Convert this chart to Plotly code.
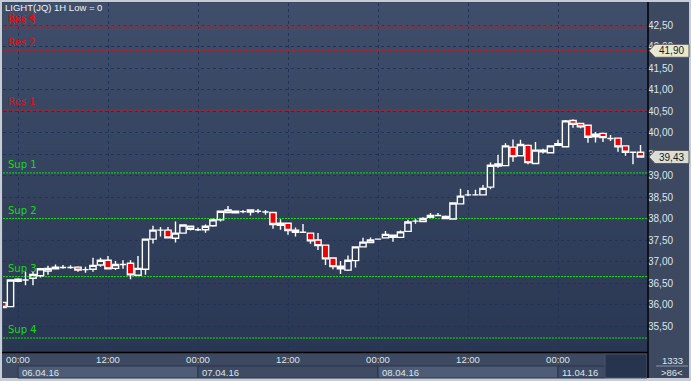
import plotly.graph_objects as go

# ---------------- data ----------------
title_text = "LIGHT(JQ) 1H Low = 0"
hours = list(range(86))
opens = [36.05, 35.95, 36.59, 36.57, 36.61, 36.67, 36.78, 36.87, 36.86, 36.86,
         36.87, 36.81, 36.82, 36.92, 37.03, 36.84, 36.93, 36.96, 36.68, 36.82,
         37.52, 37.73, 37.73, 37.54, 37.66, 37.82, 37.74, 37.74, 37.83, 37.97,
         38.14, 38.17, 38.16, 38.20, 38.17, 38.15, 38.14, 37.84, 37.89, 37.73,
         37.68, 37.66, 37.50, 37.38, 37.08, 36.89, 36.80, 37.02, 37.34, 37.44,
         37.52, 37.55, 37.61, 37.56, 37.70, 37.94, 37.93, 38.03, 38.07, 38.05,
         37.99, 38.34, 38.55, 38.55, 38.55, 38.73, 39.27, 39.23, 39.66, 39.46,
         39.70, 39.28, 39.59, 39.53, 39.70, 39.67, 40.28, 40.21, 40.17, 39.90,
         39.98, 39.86, 39.87, 39.69, 39.54, 39.54]
highs = [36.06, 36.59, 36.61, 36.76, 36.78, 36.84, 36.90, 36.93, 36.92, 36.91,
         36.89, 36.88, 37.09, 37.09, 37.13, 37.01, 37.03, 37.03, 37.13, 37.52,
         37.83, 37.80, 37.80, 37.93, 37.85, 37.84, 37.79, 37.86, 38.00, 38.18,
         38.29, 38.18, 38.20, 38.21, 38.22, 38.20, 38.15, 37.98, 37.90, 37.79,
         37.87, 37.67, 37.66, 37.38, 37.10, 37.01, 37.14, 37.34, 37.55, 37.56,
         37.53, 37.71, 37.62, 37.72, 37.97, 37.99, 38.03, 38.13, 38.13, 38.07,
         38.36, 38.69, 38.66, 38.67, 38.78, 39.30, 39.48, 39.75, 39.84, 39.83,
         39.72, 39.78, 39.62, 39.69, 39.83, 40.29, 40.31, 40.22, 40.18, 40.01,
         40.00, 39.94, 39.88, 39.70, 39.55, 39.71]
lows = [35.92, 35.94, 36.52, 36.45, 36.45, 36.63, 36.69, 36.82, 36.83, 36.83,
        36.76, 36.74, 36.76, 36.88, 36.83, 36.80, 36.83, 36.59, 36.67, 36.69,
        37.42, 37.58, 37.55, 37.44, 37.65, 37.72, 37.71, 37.67, 37.81, 37.93,
        38.14, 38.12, 38.12, 38.07, 38.12, 38.09, 37.76, 37.74, 37.62, 37.58,
        37.68, 37.41, 37.27, 36.92, 36.82, 36.71, 36.78, 36.86, 37.34, 37.44,
        37.51, 37.55, 37.46, 37.56, 37.70, 37.88, 37.93, 38.03, 38.07, 38.00,
        37.99, 38.34, 38.52, 38.55, 38.55, 38.68, 39.18, 39.23, 39.32, 39.44,
        39.26, 39.28, 39.51, 39.53, 39.70, 39.65, 40.11, 40.10, 39.76, 39.77,
        39.78, 39.80, 39.55, 39.46, 39.26, 39.43]
closes = [35.93, 36.57, 36.54, 36.57, 36.70, 36.83, 36.84, 36.83, 36.86, 36.86,
          36.80, 36.81, 36.91, 37.03, 36.83, 36.93, 36.93, 36.69, 36.84, 37.52,
          37.73, 37.73, 37.55, 37.66, 37.85, 37.75, 37.74, 37.82, 37.97, 38.17,
          38.20, 38.13, 38.16, 38.15, 38.17, 38.15, 37.86, 37.89, 37.72, 37.68,
          37.68, 37.48, 37.37, 37.06, 36.88, 36.83, 37.03, 37.34, 37.45, 37.50,
          37.52, 37.63, 37.56, 37.69, 37.92, 37.94, 38.00, 38.07, 38.07, 38.00,
          38.36, 38.52, 38.55, 38.55, 38.70, 39.24, 39.22, 39.69, 39.44, 39.72,
          39.30, 39.59, 39.55, 39.69, 39.74, 40.27, 40.19, 40.13, 39.89, 39.96,
          39.88, 39.86, 39.67, 39.54, 39.54, 39.43]

time_tick_pos = [2, 14, 26, 38, 50, 62, 74]
time_tick_text = ["00:00", "12:00", "00:00", "12:00", "00:00", "12:00", "00:00"]
date_start = [2, 26, 50, 74]
date_end = [26, 50, 74, 80.3]
date_text = ["06.04.16", "07.04.16", "08.04.16", "11.04.16"]
price_ticks = [35.5, 36.0, 36.5, 37.0, 37.5, 38.0, 38.5, 39.0, 39.5, 40.0,
               40.5, 41.0, 41.5, 42.0, 42.5]
price_tick_text = ["35,50", "36,00", "36,50", "37,00", "37,50", "38,00", "38,50",
                   "39,00", "39,50", "40,00", "40,50", "41,00", "41,50", "42,00", "42,50"]
level_names = ["Res 4", "Res 3", "Res 2", "Res 1", "Sup 1", "Sup 2", "Sup 3", "Sup 4"]
level_values = [42.48, 42.40, 41.90, 40.52, 39.06, 38.00, 36.65, 35.22]
marker_values = [41.90, 39.43]
marker_text = ["41,90", "39,43"]
corner_text = ["1333", ">86<"]

# ---------------- geometry / style ----------------
W, H = 691, 381
ML, MR, MT, MB = 3, 44, 3, 29
PW, PH = W - ML - MR, H - MT - MB
X_RANGE = [0, PW / 7.5]
Y_RANGE = [34.8953, 43.0116]
UPY = (Y_RANGE[1] - Y_RANGE[0]) / PH  # data units per pixel


def pxx(px):
    return (px - ML) / PW


def pxy(py):
    return (H - MB - py) / PH


FONT = "Arial, Liberation Sans, sans-serif"
LBL = "#dde5ee"
PANEL = "rgb(60,73,96)"
RED = "#e01010"
GREEN = "#11dd11"

fig = go.Figure()
fig.add_trace(go.Candlestick(
    x=hours, open=opens, high=highs, low=lows, close=closes,
    increasing=dict(line=dict(color="white", width=1.4), fillcolor="rgba(0,0,0,0)"),
    decreasing=dict(line=dict(color="white", width=1.4), fillcolor="#f00000"),
    whiskerwidth=0, hoverinfo="skip", showlegend=False))

shapes = []
# outer panel
shapes.append(dict(type="rect", xref="paper", yref="paper", layer="below",
                   x0=pxx(2), x1=pxx(689), y0=pxy(2), y1=pxy(378),
                   fillcolor=PANEL, line=dict(width=0)))
# gradient plot background
top = (63, 78, 106)
bot = (41, 55, 83)
N = 40
for k in range(N):
    t = (k + 0.5) / N
    c = tuple(int(round(top[j] + (bot[j] - top[j]) * t)) for j in range(3))
    y0 = MT + PH * k / N
    y1 = MT + PH * (k + 1) / N + 0.6
    shapes.append(dict(type="rect", xref="paper", yref="paper", layer="below",
                       x0=0, x1=1, y0=pxy(y1), y1=pxy(y0),
                       fillcolor="rgb(%d,%d,%d)" % c, line=dict(width=0)))
# date bands in the bottom axis area
for k, (a, b) in enumerate(zip(date_start, date_end)):
    shapes.append(dict(type="rect", xref="x", yref="paper", layer="below",
                       x0=a, x1=b, y0=pxy(378), y1=pxy(366),
                       fillcolor="rgb(78,92,117)" if k % 2 == 0 else "rgb(62,75,98)",
                       line=dict(color="rgb(40,52,75)", width=1)))
# dark empty box bottom-right of plot area
shapes.append(dict(type="rect", xref="paper", yref="paper", layer="below",
                   x0=pxx(605), x1=pxx(647), y0=pxy(378), y1=pxy(354),
                   fillcolor="rgb(39,52,78)", line=dict(color="rgb(70,82,104)", width=1)))
# level lines
for name, v in zip(level_names, level_values):
    col = RED if name.startswith("Res") else GREEN
    shapes.append(dict(type="line", xref="x", yref="y", layer="between",
                       x0=X_RANGE[0], x1=X_RANGE[1], y0=v, y1=v,
                       line=dict(color=col, width=1, dash="2px,1px")))
# separators
shapes.append(dict(type="line", xref="paper", yref="paper", layer="above",
                   x0=pxx(648), x1=pxx(648), y0=pxy(378), y1=pxy(2),
                   line=dict(color="black", width=1.5)))
shapes.append(dict(type="line", xref="paper", yref="paper", layer="above",
                   x0=pxx(2), x1=pxx(648), y0=pxy(352.5), y1=pxy(352.5),
                   line=dict(color="black", width=1.5)))
shapes.append(dict(type="line", xref="paper", yref="paper", layer="above",
                   x0=pxx(656), x1=pxx(688), y0=pxy(366), y1=pxy(366),
                   line=dict(color="rgb(140,150,168)", width=1)))
# price marker boxes
fills = ["rgb(232,232,208)", "rgb(218,222,214)"]
for v, f in zip(marker_values, fills):
    h = 6.5 * UPY
    xt, xb, xr = pxx(649), pxx(655), pxx(689)
    path = "M %f,%f L %f,%f L %f,%f L %f,%f L %f,%f Z" % (
        xt, v, xb, v + h, xr, v + h, xr, v - h, xb, v - h)
    shapes.append(dict(type="path", xref="paper", yref="y", layer="above",
                       path=path, fillcolor=f, line=dict(color="rgb(90,90,90)", width=1)))

annotations = []
annotations.append(dict(text=title_text, xref="paper", yref="paper",
                        x=pxx(3), y=pxy(8), xanchor="left", yanchor="middle",
                        showarrow=False, font=dict(family=FONT, size=9.5, color="#eef2f6")))
for name, v in zip(level_names, level_values):
    col = RED if name.startswith("Res") else GREEN
    annotations.append(dict(text=name, xref="paper", yref="y", x=pxx(6), y=v,
                            xanchor="left", yanchor="bottom", yshift=1, showarrow=False,
                            font=dict(family="DejaVu Sans, sans-serif", size=10, color=col)))
for a, txt in zip(date_start, date_text):
    annotations.append(dict(text=txt, xref="x", yref="paper", x=a, y=pxy(372),
                            xanchor="left", yanchor="middle", xshift=2, showarrow=False,
                            font=dict(family=FONT, size=9.5, color=LBL)))
for v, txt in zip(marker_values, marker_text):
    annotations.append(dict(text=txt, xref="paper", yref="y", x=pxx(671), y=v,
                            xanchor="center", yanchor="middle", showarrow=False,
                            font=dict(family=FONT, size=10, color="#1a1a1a")))
for py, txt in zip([360, 372.5], corner_text):
    annotations.append(dict(text=txt, xref="paper", yref="paper", x=pxx(672), y=pxy(py),
                            xanchor="center", yanchor="middle", showarrow=False,
                            font=dict(family=FONT, size=9.5, color=LBL)))

fig.update_layout(
    width=W, height=H,
    margin=dict(l=ML, r=MR, t=MT, b=MB, pad=0),
    paper_bgcolor="rgb(198,205,214)",
    plot_bgcolor="rgba(0,0,0,0)",
    showlegend=False, hovermode=False,
    boxgap=0.16, boxgroupgap=0,
    shapes=shapes, annotations=annotations,
    xaxis=dict(range=X_RANGE, tickvals=time_tick_pos, ticktext=time_tick_text,
               showgrid=True, gridcolor="rgb(30,52,92)", griddash="3px,3px", gridwidth=1,
               zeroline=False, showline=False, ticks="", rangeslider=dict(visible=False),
               tickfont=dict(family=FONT, size=9.5, color=LBL)),
    yaxis=dict(range=Y_RANGE, side="right", tickvals=price_ticks, ticktext=price_tick_text,
               showgrid=True, gridcolor="rgb(30,52,92)", griddash="3px,3px", gridwidth=1,
               zeroline=False, showline=False, ticks="",
               tickfont=dict(family=FONT, size=10, color=LBL)),
)

fig.write_html("out.html", config={"displayModeBar": False},
               post_script="document.body.style.margin='0';document.body.style.overflow='hidden';")
